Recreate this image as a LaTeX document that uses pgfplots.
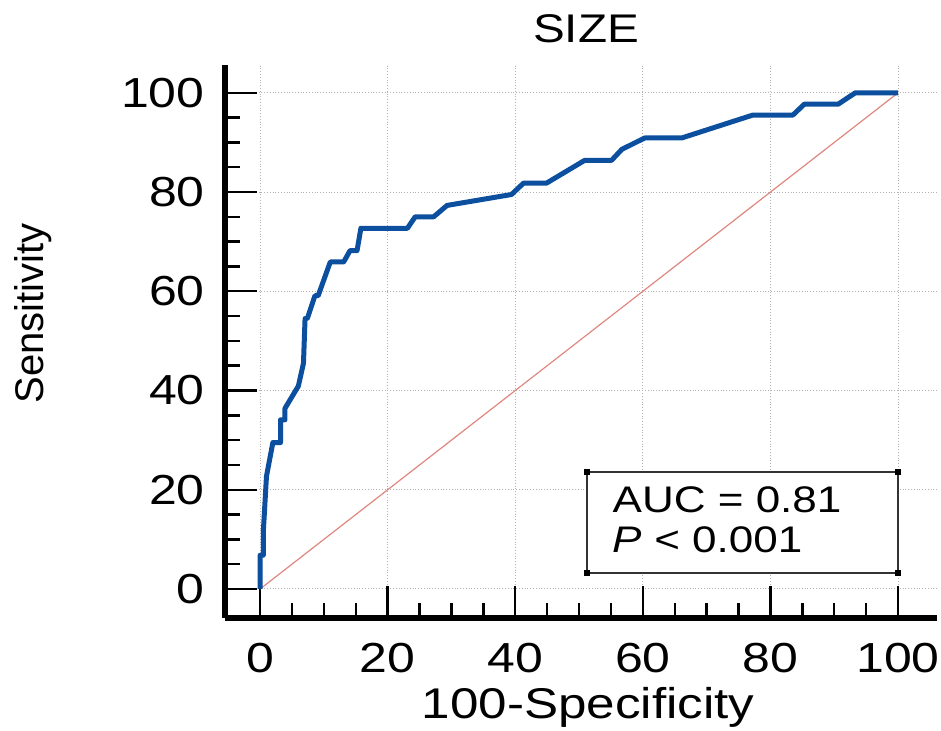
\documentclass[border=0pt]{standalone}
\usepackage{fontspec}
\setmainfont{Liberation Sans}[FakeStretch=1.19]
\newfontfamily\plainfont{Liberation Sans}
\usepackage{pgfplots}
\pgfplotsset{compat=1.18}
\definecolor{rocblue}{HTML}{0B4F9E}
\definecolor{diagred}{HTML}{E0877F}

\begin{document}
\begin{tikzpicture}
\begin{axis}[
  name=ax,
  scale only axis,
  width=356pt, height=276.5pt,
  xmin=-5.5, xmax=106.1, ymin=-5.85, ymax=105.6,
  axis x line*=bottom, axis y line*=left,
  axis line style={-, line width=3pt, black},
  xtick={0,20,...,100}, ytick={0,20,...,100},
  minor xtick={5,10,...,95}, minor ytick={5,10,...,95},
  tick align=inside,
  major tick length=16pt, minor tick length=7.5pt,
  every tick/.style={black, line width=1.2pt},
  grid=major,
  major grid style={densely dotted, black!30, line width=0.5pt},
  /pgf/number format/assume math mode=true,
  tick label style={font=\fontsize{21}{21}\selectfont},
  xticklabel style={anchor=base, yshift=-27pt},
  yticklabel style={anchor=east, inner sep=0pt, xshift=-10pt},
  title={SIZE},
  title style={font=\fontsize{20}{20}\selectfont, at={(rel axis cs:0.507,1.0181)}, anchor=base},
  xlabel={100-Specificity},
  xlabel style={font=\fontsize{21.5}{21.5}\selectfont, at={(rel axis cs:0.51,-0.1826)}, anchor=base},
  ylabel={\plainfont Sensitivity},
  ylabel style={font=\fontsize{20}{20}\selectfont, at={(rel axis cs:-0.2556,0.551)}, anchor=base},
  clip=false,
]
% chance line
\addplot[diagred, line width=0.6pt] coordinates {(0,0) (100,100)};
% ROC curve
\addplot[rocblue, line width=2.5pt, line join=round] coordinates {
  (0,0) (0,6.8) (0.5,6.8) (0.5,11.4) (1.0,22.7) (2.0,29.5) (3.2,29.5)
  (3.2,34.1) (3.9,34.1) (3.9,36.4) (6.0,40.9) (6.8,45.5) (7.05,54.5)
  (7.4,54.5) (8.6,59.1) (9.1,59.1) (11.0,65.9) (13.1,65.9) (14.1,68.2)
  (15.2,68.2) (15.8,72.7) (23.1,72.7) (24.3,75.0) (27.2,75.0) (29.3,77.3)
  (39.4,79.5) (41.3,81.8) (44.9,81.8) (50.9,86.4) (55.1,86.4) (56.7,88.6)
  (60.3,90.9) (66.1,90.9) (77.2,95.5) (83.5,95.5) (85.3,97.7) (90.6,97.7)
  (93.3,100) (100,100)
};
% AUC box
\draw[fill=white, draw=black!80, line width=1.2pt] (axis cs:51.25,3.2) rectangle (axis cs:100,23.6);
\node[fill=black, minimum size=3pt, inner sep=0pt] at (axis cs:51.25,3.2) {};
\node[fill=black, minimum size=3pt, inner sep=0pt] at (axis cs:100,3.2) {};
\node[fill=black, minimum size=3pt, inner sep=0pt] at (axis cs:51.25,23.6) {};
\node[fill=black, minimum size=3pt, inner sep=0pt] at (axis cs:100,23.6) {};
\node[anchor=base west, inner sep=0pt, font=\fontsize{18.5}{18.5}\selectfont] at (axis cs:55.2,15.5) {AUC = 0.81};
\node[anchor=base west, inner sep=0pt, font=\fontsize{18.5}{18.5}\selectfont] at (axis cs:55.2,7.3) {\textit{P} < 0.001};
\end{axis}
\pgfresetboundingbox
\path[use as bounding box] ([shift={(-112.5pt,-56pt)}]ax.south west) rectangle ([shift={(2pt,32.5pt)}]ax.north east);
\end{tikzpicture}
\end{document}
